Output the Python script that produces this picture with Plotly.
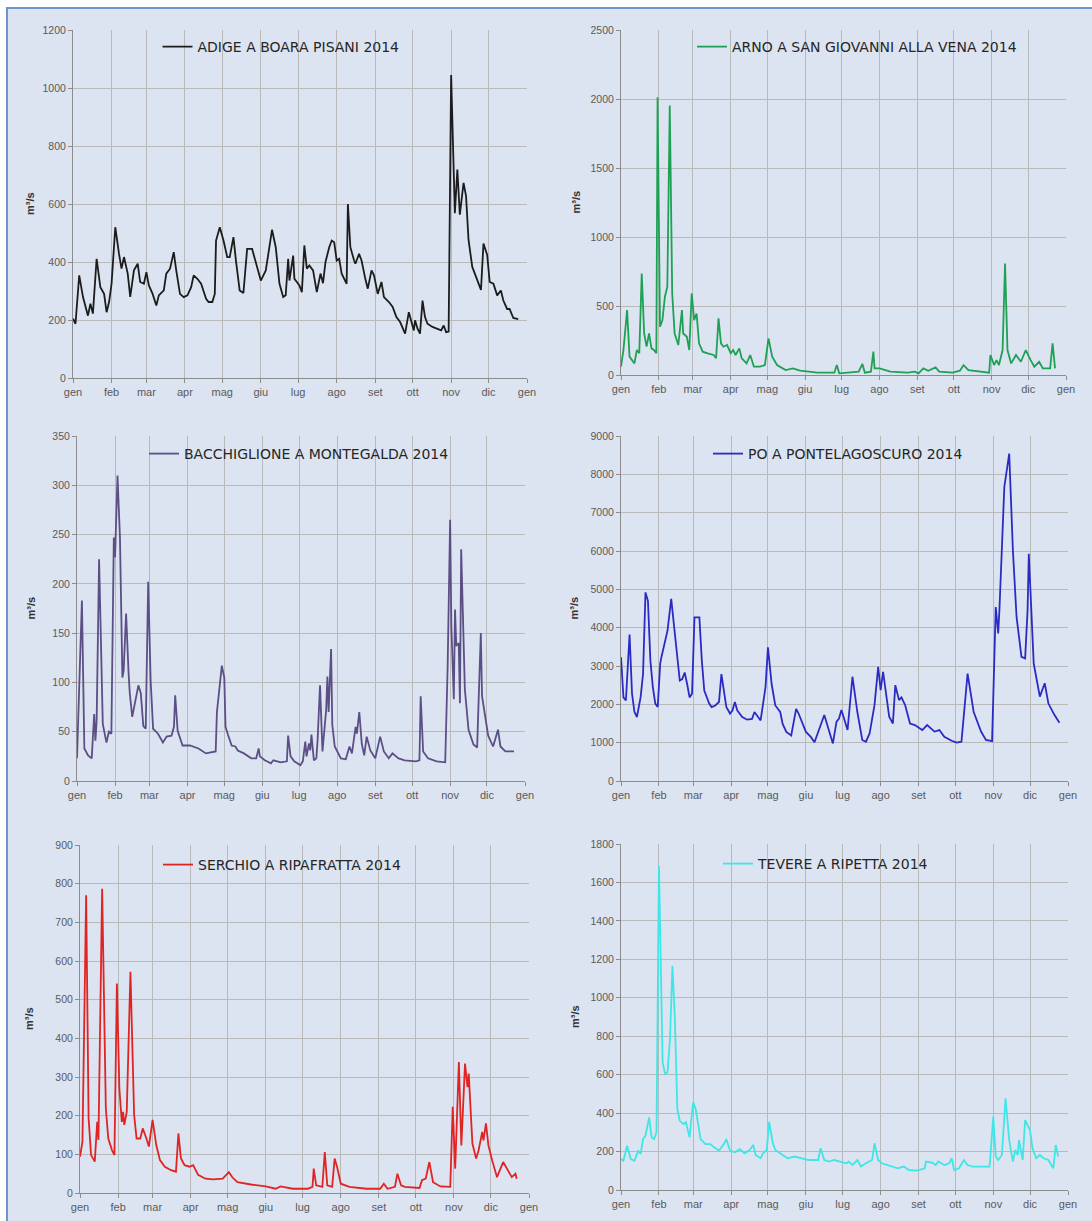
"""Portate giornaliere 2014 di sei fiumi italiani: sei pannelli in griglia 3x2."""

import pandas as pd
import plotly.graph_objects as go

# =============================================================================
# Dati (giorno dell'anno a partire da 0 = 1 gennaio, m3/s)
# =============================================================================

MONTH_LABELS = ["gen", "feb", "mar", "apr", "mag", "giu", "lug", "ago", "set", "ott", "nov", "dic", "gen"]

ADIGE_DAY = [0, 2, 5, 8, 12, 14, 16, 19, 22, 25, 27, 29, 31, 34, 37, 39, 41, 44, 46, 49,
             52, 54, 57, 59, 61, 64, 67, 69, 73, 75, 78, 81, 83, 86, 89, 92, 95, 97, 100, 103,
             107, 109, 112, 114, 115, 118, 121, 124, 126, 129, 131, 134, 137, 140, 144, 148, 151, 155, 158, 160,
             163, 166, 169, 171, 173, 174, 177, 178, 180, 182, 184, 186, 188, 190, 193, 196, 199, 201, 203, 206,
             208, 210, 212, 214, 216, 218, 220, 221, 223, 226, 227, 230, 232, 235, 237, 240, 242, 245, 248, 250,
             254, 257, 260, 263, 267, 270, 272, 274, 275, 277, 279, 281, 283, 285, 289, 293, 296, 298, 300, 302,
             304, 307, 309, 311, 314, 316, 318, 321, 325, 328, 330, 333, 335, 338, 341, 344, 346, 349, 351, 354,
             358]
ADIGE_Q = [205, 187, 354, 280, 215, 256, 222, 411, 313, 290, 227, 262, 325, 520, 428, 377, 417, 360, 280, 371,
           394, 331, 325, 365, 319, 290, 250, 285, 302, 360, 377, 434, 371, 290, 279, 285, 313, 354, 342, 325,
           273, 262, 262, 290, 474, 520, 474, 417, 417, 486, 405, 302, 293, 445, 445, 382, 336, 371, 451, 511,
           451, 325, 279, 285, 411, 336, 422, 342, 331, 319, 296, 457, 377, 388, 371, 296, 360, 327, 400, 451,
           474, 468, 405, 411, 360, 342, 325, 600, 451, 405, 394, 428, 405, 342, 308, 371, 354, 290, 331, 279,
           262, 245, 210, 193, 153, 227, 199, 164, 199, 170, 153, 267, 210, 187, 176, 170, 164, 181, 158, 160,
           1045, 568, 719, 563, 673, 627, 476, 383, 337, 304, 464, 424, 331, 325, 285, 302, 267, 238, 238, 207,
           203]

ARNO_DAY = [0, 2, 5, 7, 11, 13, 15, 17, 19, 21, 23, 25, 27, 29, 30, 32, 34, 36, 38, 40,
            42, 44, 47, 50, 51, 54, 56, 58, 60, 62, 64, 67, 71, 76, 78, 80, 82, 84, 87, 90,
            92, 94, 97, 99, 103, 106, 109, 114, 118, 121, 124, 128, 135, 141, 147, 161, 175, 177, 179, 195,
            198, 200, 205, 207, 208, 212, 221, 235, 241, 244, 248, 252, 258, 261, 272, 278, 281, 285, 302, 303,
            306, 308, 310, 313, 315, 317, 320, 324, 328, 332, 336, 339, 343, 346, 352, 354, 356]
ARNO_Q = [60, 181, 470, 133, 84, 181, 157, 735, 301, 205, 301, 193, 181, 157, 2013, 350, 398, 567, 639, 1953,
          591, 301, 217, 470, 301, 277, 181, 591, 398, 446, 229, 169, 157, 145, 121, 410, 229, 205, 217, 157,
          181, 145, 193, 121, 84, 145, 60, 60, 72, 265, 133, 72, 36, 48, 31, 17, 17, 72, 12, 24,
          80, 17, 24, 169, 48, 48, 24, 17, 24, 12, 48, 31, 55, 24, 17, 31, 72, 36, 17, 145,
          72, 108, 72, 181, 807, 181, 84, 145, 96, 181, 108, 60, 96, 48, 48, 229, 48]

BACCH_DAY = [0, 4, 6, 9, 12, 14, 15, 16, 18, 21, 24, 26, 28, 30, 31, 33, 35, 37, 38, 40,
             42, 43, 45, 47, 48, 50, 52, 54, 56, 58, 60, 62, 66, 70, 73, 77, 79, 80, 82, 86,
             92, 99, 105, 108, 113, 114, 116, 117, 118, 120, 121, 123, 126, 129, 131, 136, 142, 146, 148, 149,
             153, 158, 160, 166, 171, 172, 174, 177, 182, 184, 186, 187, 189, 190, 191, 193, 195, 196, 198, 200,
             203, 204, 205, 207, 208, 210, 215, 219, 222, 224, 227, 228, 230, 232, 234, 236, 239, 243, 247, 250,
             254, 257, 262, 267, 276, 279, 280, 282, 286, 293, 300, 302, 304, 305, 307, 308, 309, 311, 312, 313,
             315, 316, 319, 323, 326, 329, 330, 332, 335, 339, 343, 345, 349, 354, 356]
BACCH_Q = [23, 183, 33, 26, 23, 68, 41, 61, 225, 58, 39, 50, 48, 247, 227, 310, 247, 105, 112, 170,
           110, 89, 65, 78, 87, 97, 89, 56, 53, 202, 102, 53, 48, 39, 45, 46, 55, 87, 51, 36,
           36, 33, 28, 29, 30, 70, 92, 100, 117, 105, 55, 47, 36, 35, 31, 28, 23, 23, 33, 25,
           21, 18, 21, 19, 20, 46, 25, 20, 16, 20, 40, 25, 38, 31, 47, 21, 23, 41, 97, 30,
           72, 106, 70, 134, 57, 35, 23, 22, 35, 28, 55, 48, 70, 38, 26, 45, 31, 23, 45, 30,
           23, 28, 23, 21, 20, 21, 86, 30, 23, 20, 19, 117, 265, 157, 83, 174, 137, 140, 79, 235,
           140, 93, 52, 37, 34, 150, 86, 69, 46, 35, 52, 35, 30, 30, 30]

PO_DAY = [0, 2, 4, 7, 9, 11, 13, 16, 18, 20, 22, 24, 26, 28, 30, 32, 33, 36, 38, 41,
          43, 46, 48, 50, 52, 54, 56, 58, 60, 64, 66, 68, 72, 74, 77, 80, 82, 84, 86, 89,
          91, 93, 95, 99, 103, 107, 109, 114, 118, 120, 123, 126, 130, 132, 135, 139, 143, 145, 149, 151,
          155, 158, 166, 173, 176, 178, 180, 185, 189, 193, 197, 200, 203, 207, 210, 212, 214, 219, 222, 224,
          227, 229, 232, 236, 240, 246, 250, 256, 260, 264, 270, 274, 278, 283, 288, 294, 298, 303, 306, 308,
          309, 313, 317, 320, 323, 327, 330, 332, 333, 337, 339, 342, 346, 349, 354, 358]
PO_Q = [3230, 2180, 2100, 3820, 2280, 1800, 1670, 2180, 2790, 4920, 4700, 3140, 2450, 2020, 1930, 3060, 3230, 3710, 3930, 4750,
        4100, 3140, 2620, 2660, 2830, 2530, 2180, 2280, 4270, 4270, 3140, 2360, 2020, 1930, 1970, 2060, 2790, 2360, 1930, 1760,
        1840, 2060, 1840, 1670, 1600, 1620, 1800, 1580, 2450, 3490, 2530, 1970, 1800, 1490, 1280, 1190, 1880, 1760, 1410, 1280,
        1150, 1010, 1720, 980, 1550, 1630, 1850, 1330, 2720, 1800, 1070, 1025, 1240, 1980, 2980, 2370, 2850, 1680, 1500, 2500,
        2110, 2180, 1980, 1500, 1460, 1330, 1460, 1290, 1330, 1155, 1050, 1000, 1025, 2800, 1800, 1290, 1070, 1040, 4540, 3850,
        4460, 7670, 8540, 6020, 4280, 3240, 3200, 4460, 5930, 3070, 2720, 2200, 2550, 2020, 1720, 1520]

SERCHIO_DAY = [0, 2, 5, 7, 9, 12, 14, 15, 18, 21, 23, 26, 28, 30, 32, 34, 35, 36, 38, 41,
               44, 46, 49, 51, 54, 56, 59, 62, 65, 69, 74, 78, 80, 82, 85, 89, 92, 96, 102, 108,
               116, 121, 124, 128, 139, 151, 159, 163, 173, 185, 189, 190, 192, 197, 199, 201, 205, 207, 209, 212,
               219, 233, 244, 247, 250, 256, 258, 261, 264, 276, 278, 281, 284, 287, 293, 301, 303, 305, 308, 310,
               313, 315, 316, 319, 322, 324, 327, 328, 330, 332, 335, 339, 344, 347, 351, 354, 355]
SERCHIO_Q = [94, 133, 770, 193, 98, 81, 184, 137, 787, 219, 141, 111, 98, 542, 270, 184, 210, 176, 210, 572,
             202, 141, 141, 167, 141, 120, 189, 124, 85, 68, 59, 55, 154, 90, 72, 68, 72, 47, 37, 35,
             37, 54, 40, 28, 22, 17, 11, 17, 11, 11, 16, 63, 20, 16, 106, 20, 16, 89, 67, 24,
             16, 11, 11, 24, 11, 16, 50, 20, 16, 13, 33, 37, 80, 28, 17, 16, 223, 63, 339, 123,
             335, 274, 309, 128, 89, 110, 158, 136, 180, 123, 85, 41, 80, 63, 41, 50, 37]

TEVERE_DAY = [0, 2, 5, 8, 11, 14, 16, 18, 20, 23, 25, 27, 29, 31, 34, 36, 38, 40, 42, 44,
              46, 48, 51, 53, 55, 56, 58, 59, 61, 63, 65, 69, 73, 76, 80, 84, 86, 89, 93, 97,
              101, 105, 108, 110, 114, 116, 119, 121, 124, 126, 130, 136, 142, 147, 153, 161, 163, 166, 170, 174,
              178, 184, 186, 189, 193, 196, 200, 205, 207, 210, 213, 217, 221, 226, 231, 235, 242, 248, 249, 254,
              257, 259, 264, 268, 270, 272, 276, 280, 283, 287, 293, 301, 304, 306, 308, 311, 314, 317, 320, 322,
              324, 325, 328, 330, 334, 336, 339, 342, 345, 349, 353, 355, 357]
TEVERE_Q = [161, 152, 230, 161, 152, 205, 187, 265, 282, 378, 274, 265, 300, 1686, 664, 603, 612, 785, 1166, 889,
            421, 360, 343, 352, 300, 274, 404, 456, 421, 352, 265, 239, 239, 222, 205, 239, 265, 205, 196, 213,
            191, 208, 234, 182, 165, 191, 208, 356, 243, 208, 191, 165, 174, 165, 156, 156, 217, 156, 148, 156,
            148, 139, 148, 130, 156, 122, 139, 156, 243, 156, 139, 130, 122, 113, 122, 104, 101, 113, 148, 142,
            130, 148, 130, 139, 165, 104, 113, 156, 130, 122, 122, 122, 382, 174, 156, 182, 477, 260, 148, 208,
            182, 260, 156, 364, 312, 217, 165, 182, 165, 156, 113, 234, 174]

# =============================================================================
# Aspetto dei pannelli
# =============================================================================

FIG_W, FIG_H = 1092, 1221
TICK_FONT = "Liberation Sans, Arial, sans-serif"
LEGEND_FONT = "DejaVu Sans, Verdana, sans-serif"
GRID = "#b9b9b9"
AXIS = "#8c8c8c"
TICK_TEXT = "#5a5a5a"
UNIT = "m³/s"

# (nome, giorni, portate, colore, ymax, dtick, box px [x0, x1, y_top, y_bottom], legenda px [x, y], unita px x)
PANELS = [
    ("ADIGE A BOARA PISANI 2014", ADIGE_DAY, ADIGE_Q, "#1c1c1c", 1200, 200, (73, 527, 30, 378), (281, 47), 30),
    ("ARNO A SAN GIOVANNI ALLA VENA 2014", ARNO_DAY, ARNO_Q, "#1fa155", 2500, 500, (621, 1066, 30, 375), (857, 47), 575),
    ("BACCHIGLIONE A MONTEGALDA 2014", BACCH_DAY, BACCH_Q, "#5b4f86", 350, 50, (77, 525, 436, 781), (299, 454), 30),
    ("PO A PONTELAGOSCURO 2014", PO_DAY, PO_Q, "#2b2bc4", 9000, 1000, (621, 1068, 436, 781), (838, 454), 573),
    ("SERCHIO A RIPAFRATTA 2014", SERCHIO_DAY, SERCHIO_Q, "#e02424", 900, 100, (80, 529, 845, 1193), (282, 865), 29),
    ("TEVERE A RIPETTA 2014", TEVERE_DAY, TEVERE_Q, "#3fe6e6", 1800, 200, (621, 1068, 844, 1190), (826, 864), 575),
]


def to_dates(days):
    return pd.Timestamp("2014-01-01") + pd.to_timedelta(days, unit="D")


def px_x(x):
    return x / FIG_W


def px_y(y):
    return 1 - y / FIG_H


def build_figure() -> go.Figure:
    fig = go.Figure()
    month_ticks = pd.date_range("2014-01-01", "2015-01-01", freq="MS")
    layout = {}
    annotations = []

    for i, (name, days, flow, color, ymax, dtick, box, leg, unit_x) in enumerate(PANELS, start=1):
        suffix = "" if i == 1 else str(i)
        legend_id = "legend" if i == 1 else f"legend{i}"
        fig.add_trace(
            go.Scatter(
                x=to_dates(days),
                y=flow,
                mode="lines",
                name=name,
                line=dict(color=color, width=1.8),
                xaxis=f"x{suffix}",
                yaxis=f"y{suffix}",
                legend=legend_id,
                showlegend=True,
            )
        )

        x0, x1, yt, yb = box
        layout[f"xaxis{suffix}"] = dict(
            domain=[px_x(x0), px_x(x1)],
            anchor=f"y{suffix}",
            type="date",
            range=["2014-01-01", "2015-01-01"],
            tickvals=month_ticks,
            ticktext=MONTH_LABELS,
            tickangle=0,
            showgrid=True,
            gridcolor=GRID,
            gridwidth=1,
            showline=True,
            linecolor=AXIS,
            ticks="outside",
            ticklen=4,
            tickcolor=AXIS,
            tickfont=dict(family=TICK_FONT, size=11, color=TICK_TEXT),
            zeroline=False,
            automargin=False,
            fixedrange=True,
        )
        layout[f"yaxis{suffix}"] = dict(
            domain=[px_y(yb), px_y(yt)],
            anchor=f"x{suffix}",
            range=[0, ymax],
            dtick=dtick,
            tick0=0,
            showgrid=True,
            gridcolor=GRID,
            gridwidth=1,
            showline=True,
            linecolor=AXIS,
            ticks="outside",
            ticklen=4,
            tickcolor=AXIS,
            tickfont=dict(family=TICK_FONT, size=10.5, color=TICK_TEXT),
            zeroline=False,
            automargin=False,
            fixedrange=True,
        )
        layout[legend_id] = dict(
            x=px_x(leg[0]),
            y=px_y(leg[1]),
            xanchor="center",
            yanchor="middle",
            xref="paper",
            yref="paper",
            bgcolor="rgba(0,0,0,0)",
            borderwidth=0,
            itemwidth=30,
            font=dict(family=LEGEND_FONT, size=14, color="#262626"),
        )
        annotations.append(
            dict(
                text=UNIT,
                x=px_x(unit_x),
                y=px_y((yt + yb) / 2),
                xref="paper",
                yref="paper",
                textangle=-90,
                showarrow=False,
                xanchor="center",
                yanchor="middle",
                font=dict(family="Liberation Sans, Arial, sans-serif", size=11, color="#333333", weight="bold"),
            )
        )

    fig.update_layout(**layout)
    fig.update_layout(
        width=FIG_W,
        height=FIG_H,
        margin=dict(l=0, r=0, t=0, b=0, autoexpand=False),
        paper_bgcolor="white",
        plot_bgcolor="white",
        showlegend=True,
        hovermode=False,
        annotations=annotations,
        shapes=[
            dict(
                type="rect",
                xref="paper",
                yref="paper",
                x0=px_x(7),
                x1=1.02,
                y0=-0.02,
                y1=px_y(8),
                fillcolor="#dce4f1",
                line=dict(color="#6f94d2", width=2),
                layer="below",
            )
        ],
    )
    return fig


def main() -> None:
    fig = build_figure()
    # the page body keeps its default 8px margin; drop it so figure pixels match page pixels
    fig.write_html(
        "out.html",
        config={"displayModeBar": False},
        post_script="document.body.style.margin = '0';",
    )


if __name__ == "__main__":
    main()
